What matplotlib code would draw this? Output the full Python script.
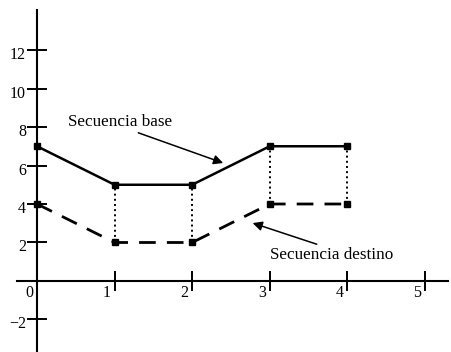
import matplotlib.pyplot as plt
import matplotlib.transforms as mtransforms

# data
x = [0, 1, 2, 3, 4]
base = [7, 5, 5, 7, 7]
destino = [4, 2, 2, 4, 4]
xticks = [0, 1, 2, 3, 4, 5]
yticks = [-2, 2, 4, 6, 8, 10, 12]
ytick_labels = ["\u22122", "2", "4", "6", "8", "10", "12"]

plt.rcParams['font.family'] = ['Liberation Serif', 'DejaVu Serif']

fig = plt.figure(figsize=(4.52, 3.52), dpi=100)
ax = fig.add_axes([0, 0, 1, 1])
ax.set_xlim(-0.477, 5.35)
ax.set_ylim(-3.69, 14.6)

# axes through the origin
for s in ['top', 'right']:
    ax.spines[s].set_visible(False)
ax.spines['left'].set_position(('data', 0))
ax.spines['bottom'].set_position(('data', 0))
ax.spines['left'].set_bounds(-3.69, 14.1)
ax.spines['bottom'].set_bounds(-0.26, 5.3)
ax.spines['left'].set_linewidth(1.5)
ax.spines['bottom'].set_linewidth(1.5)

ax.set_xticks(xticks)
ax.set_xticklabels([str(t) for t in xticks])
ax.set_yticks(yticks)
ax.set_yticklabels(ytick_labels)
ax.tick_params(axis='both', direction='inout', length=14, width=1.4,
               labelsize=11.5)
ax.tick_params(axis='x', pad=-4)
ax.tick_params(axis='y', pad=1)

off_x = mtransforms.ScaledTranslation(-8 / 100, 0, fig.dpi_scale_trans)
for lbl in ax.get_xticklabels():
    lbl.set_transform(lbl.get_transform() + off_x)
off_y = mtransforms.ScaledTranslation(0, -3 / 100, fig.dpi_scale_trans)
for lbl in ax.get_yticklabels():
    lbl.set_transform(lbl.get_transform() + off_y)

# dotted connectors
for xi, b, d in zip(x[1:], base[1:], destino[1:]):
    ax.plot([xi, xi], [d, b], color='black', linestyle=':', linewidth=1.4)

ax.plot(x, base, color='black', linewidth=1.8, marker='s', markersize=4)
ax.plot(x, destino, color='black', linewidth=2.0, linestyle=(0, (6, 4)),
        marker='s', markersize=4)

ax.annotate("Secuencia base", xy=(2.40, 6.13), xytext=(0.40, 8.26),
            fontsize=12.3, va='center', ha='left',
            arrowprops=dict(arrowstyle='-|>', color='black', lw=1.1,
                            shrinkA=0, shrinkB=0, mutation_scale=14,
                            relpos=(0.6, 0.0)))
ax.annotate("Secuencia destino", xy=(2.78, 3.01), xytext=(3.0, 1.35),
            fontsize=12.3, va='center', ha='left',
            arrowprops=dict(arrowstyle='-|>', color='black', lw=1.1,
                            shrinkA=0, shrinkB=0, mutation_scale=14,
                            relpos=(0.45, 1.0)))

fig.savefig("out.png", dpi=100)
